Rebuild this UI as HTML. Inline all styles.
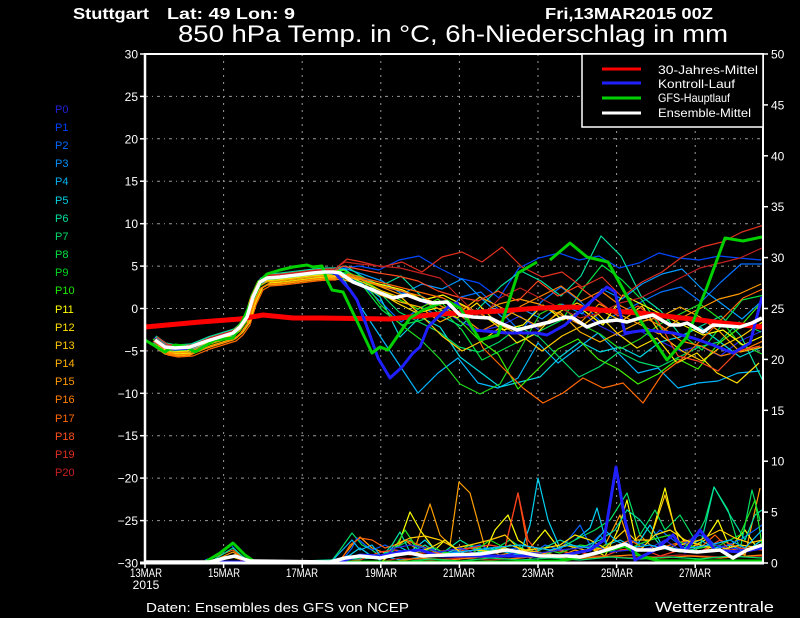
<!DOCTYPE html>
<html><head><meta charset="utf-8"><style>
html,body{margin:0;padding:0;background:#000;}
svg{display:block;}
text{font-family:"Liberation Sans",sans-serif;}
</style></head><body>
<svg width="800" height="618" viewBox="0 0 800 618" xmlns="http://www.w3.org/2000/svg">
<defs>
<clipPath id="pc"><rect x="145" y="54" width="617" height="509"/></clipPath>
<path id="pre" d="M155,340 L165,347 175,349 190,348 207,341 220,337 233,333 240,327 247,317 253,297 260,282 267,278 280,277 297,275 313,273 325,272 333,272"/>
</defs>
<rect width="800" height="618" fill="#000"/>

<!-- titles -->
<g fill="#fff">
<text x="73" y="19" font-size="16" font-weight="bold" textLength="76" lengthAdjust="spacingAndGlyphs">Stuttgart</text>
<text x="167" y="19" font-size="16" font-weight="bold" textLength="128" lengthAdjust="spacingAndGlyphs">Lat: 49 Lon: 9</text>
<text x="545" y="19" font-size="16" font-weight="bold" textLength="168" lengthAdjust="spacingAndGlyphs">Fri,13MAR2015 00Z</text>
<text x="178" y="42" font-size="24" textLength="550" lengthAdjust="spacingAndGlyphs">850 hPa Temp. in °C, 6h-Niederschlag in mm</text>
</g>

<!-- grid -->
<g stroke="#9a9a9a" stroke-width="1" stroke-dasharray="3,4,1,4" fill="none">
<line x1="145" y1="96.4" x2="762" y2="96.4"/>
<line x1="145" y1="138.8" x2="762" y2="138.8"/>
<line x1="145" y1="181.2" x2="762" y2="181.2"/>
<line x1="145" y1="223.7" x2="762" y2="223.7"/>
<line x1="145" y1="266.1" x2="762" y2="266.1"/>
<line x1="145" y1="308.5" x2="762" y2="308.5"/>
<line x1="145" y1="350.9" x2="762" y2="350.9"/>
<line x1="145" y1="393.3" x2="762" y2="393.3"/>
<line x1="145" y1="435.7" x2="762" y2="435.7"/>
<line x1="145" y1="478.1" x2="762" y2="478.1"/>
<line x1="145" y1="520.6" x2="762" y2="520.6"/>
</g>
<g stroke="#9a9a9a" stroke-width="1" stroke-dasharray="2,5" fill="none">
<line x1="223.6" y1="54" x2="223.6" y2="563"/>
<line x1="302.2" y1="54" x2="302.2" y2="563"/>
<line x1="380.8" y1="54" x2="380.8" y2="563"/>
<line x1="459.4" y1="54" x2="459.4" y2="563"/>
<line x1="538" y1="54" x2="538" y2="563"/>
<line x1="616.6" y1="54" x2="616.6" y2="563"/>
<line x1="695.2" y1="54" x2="695.2" y2="563"/>
</g>

<g clip-path="url(#pc)" fill="none" stroke-linejoin="round">
<!-- precipitation members -->
<g stroke-width="1.2">
<polyline stroke="#ffa000" points="200,563 215,560 233,552 250,563 330,563 340,560 352,545 360,537 372,548 385,553 395,548 405,540 415,548 430,504 440,535 450,545 459,482 470,493 485,548 500,555 515,552 530,558 545,553 560,556 575,550 590,555 605,545 620,515 630,545 640,535 655,550 670,548 685,540 700,553 715,545 730,550 745,555 760,488"/>
<polyline stroke="#ffff00" points="210,561 233,557 250,563 380,563 390,555 400,540 410,512 420,530 435,550 445,540 455,548 470,545 485,552 495,530 508,515 518,540 530,548 545,530 560,550 575,555 590,548 605,556 618,530 627,500 637,545 650,540 665,488 675,530 690,548 705,540 718,520 730,548 745,530 755,545 762,540"/>
<polyline stroke="#00d0f0" points="330,563 350,555 360,548 370,555 380,560 395,545 410,552 425,540 440,555 455,550 470,555 490,548 505,552 520,555 530,525 538,478 548,520 560,548 575,540 590,528 597,508 607,545 620,540 635,548 650,525 662,545 680,550 700,540 715,548 730,545 745,552 762,540"/>
<polyline stroke="#00e060" points="330,563 340,550 352,533 362,545 372,550 380,556 395,548 410,540 420,552 435,548 450,556 470,545 490,552 510,540 525,550 545,555 560,548 575,540 595,530 610,520 627,493 640,535 655,510 665,530 680,515 695,540 705,520 714,487 728,510 740,550 752,490 760,520"/>
<polyline stroke="#0060ff" points="205,560 220,555 231,545 245,560 340,563 352,548 357,538 365,545 372,550 385,545 395,550 410,552 430,548 445,555 460,550 480,545 495,553 515,548 530,555 545,545 560,550 580,525 590,545 600,535 612,552 630,540 645,545 660,530 680,545 700,535 720,548 740,540 755,530 762,525"/>
<polyline stroke="#ff6000" points="205,561 233,550 250,563 340,562 350,545 360,538 372,540 385,548 395,545 405,540 420,545 435,552 450,550 470,548 490,552 505,548 518,493 528,548 540,555 555,550 570,553 590,550 610,548 630,540 650,552 670,545 690,540 700,548 715,535 730,550 750,548 762,545"/>
<polyline stroke="#00e0a0" points="210,562 233,548 250,563 380,558 392,545 400,532 410,552 425,545 440,555 460,540 480,552 500,548 520,555 540,550 560,540 580,548 600,540 615,530 627,510 640,520 660,545 680,552 700,548 714,487 730,515 745,540 755,515 762,510"/>
<polyline stroke="#ff4020" points="215,562 233,556 245,562 330,563 360,560 380,552 395,550 410,555 430,552 450,555 470,548 490,545 505,548 518,493 528,540 540,555 560,556 580,552 600,558 620,550 640,548 660,556 680,550 700,552 720,540 740,548 762,550"/>
<polyline stroke="#20e020" points="390,556 405,530 415,545 430,550 450,553 470,555 490,540 505,548 520,552 540,548 560,553 580,545 600,548 615,540 630,548 650,540 670,535 685,545 700,548 720,545 740,535 755,500 762,545"/>
<polyline stroke="#ffc800" points="395,545 410,538 425,536 440,540 455,548 470,545 490,540 505,535 520,550 545,553 565,545 585,550 605,548 625,530 635,540 650,540 665,495 680,545 700,540 720,530 735,538 750,543 762,540"/>
<polyline stroke="#2828e8" points="380,560 395,548 410,545 425,548 440,552 460,548 480,555 500,556 520,552 540,553 560,550 580,548 595,545 610,552 630,550 650,548 665,540 680,550 700,530 715,545 730,548 745,550 762,545"/>
<polyline stroke="#ffe000" points="385,558 400,552 415,553 430,548 445,540 460,552 475,550 495,552 510,545 525,550 545,548 560,545 575,535 590,540 605,548 620,545 640,550 655,535 670,530 685,540 700,545 720,550 740,545 762,548"/>
<polyline stroke="#00b8ff" points="330,563 352,540 360,550 372,545 380,555 400,560 430,556 460,552 490,548 520,545 550,550 570,545 590,548 605,530 615,540 630,548 650,545 670,550 690,548 710,545 730,540 745,548 762,530"/>
<polyline stroke="#c02020" points="380,562 400,558 430,560 460,558 490,560 520,558 545,555 570,557 600,556 640,558 680,555 720,557 762,556"/>
<polyline stroke="#ff8000" points="390,562 420,558 450,560 480,557 510,559 540,556 570,559 600,557 630,555 660,558 690,556 720,558 762,555"/>
<polyline stroke="#00d868" points="400,562 430,559 460,561 490,558 520,560 550,558 580,560 610,557 640,559 670,557 700,559 730,556 762,558"/>
</g>
<!-- precip main lines -->
<polyline stroke="#00d000" stroke-width="3" points="145,562 205,562 220,553 233,543 245,555 255,562 500,562 560,561 590,555 610,550 625,546 640,556 660,561 762,561"/>
<polyline stroke="#2020ff" stroke-width="3" points="145,562 340,562 360,555 380,556 400,552 420,550 440,556 480,556 520,556 560,556 590,550 604,540 616,467 625,520 635,560 655,550 673,535 685,552 700,530 715,550 740,552 762,548"/>
<polyline stroke="#ffffff" stroke-width="3.5" points="145,562 210,562 225,558 235,556 250,561 330,562 345,558 360,556 380,558 395,555 410,553 423,556 447,555 480,554 507,550 520,552 540,556 567,556 580,557 600,552 613,548 625,544 637,550 653,550 665,547 673,550 697,552 720,550 733,558 747,550 762,545"/>

<!-- temperature members -->
<g stroke-width="1.2">
<g stroke="#2828e8" transform="translate(0,1)"><use href="#pre"/><polyline points="333,272 345,272 360,276 380,285 400,290 420,300 440,308 460,320 480,330 500,325 520,315 540,330 560,320 580,310 600,325 620,335 640,330 660,340 680,350 700,345 720,355 740,340 762,330"/></g>
<g stroke="#0048ff" transform="translate(-1,-2)"><use href="#pre"/><polyline points="333,272 345,270 360,268 380,272 400,262 420,258 440,270 460,280 480,285 500,300 520,270 540,260 560,255 580,262 600,258 620,270 640,265 660,255 680,260 700,262 720,258 740,260 762,262"/></g>
<g stroke="#0070ff" transform="translate(1,2)"><use href="#pre"/><polyline points="333,272 345,274 360,282 380,300 400,320 420,305 440,315 460,295 480,290 500,310 520,330 540,300 560,285 580,300 600,320 620,310 640,300 660,290 680,285 700,300 720,280 740,262 762,262"/></g>
<g stroke="#0098ff" transform="translate(2,-1)"><use href="#pre"/><polyline points="333,272 345,270 360,275 380,282 400,295 420,285 440,290 460,280 480,300 500,318 520,310 540,320 560,305 580,315 600,290 620,300 640,285 660,275 680,270 700,290 720,305 740,320 762,300"/></g>
<g stroke="#00b8ff" transform="translate(-2,3)"><use href="#pre"/><polyline points="333,272 345,275 360,300 380,330 400,360 420,390 440,370 460,355 480,380 500,385 520,375 540,340 560,360 580,345 600,330 620,350 640,370 660,365 680,385 700,380 720,378 740,370 762,368"/></g>
<g stroke="#00d8e0" transform="translate(0,-3)"><use href="#pre"/><polyline points="333,272 345,272 360,285 380,300 400,340 420,320 440,330 460,360 480,375 500,390 520,385 540,380 560,360 580,345 600,355 620,350 640,360 660,345 680,340 700,330 720,345 740,360 762,350"/></g>
<g stroke="#00e0a0" transform="translate(1,-4)"><use href="#pre"/><polyline points="333,272 345,270 360,280 380,290 400,280 420,300 440,320 460,330 480,310 500,290 520,275 540,285 560,300 580,280 600,240 620,260 640,300 660,315 680,340 700,330 720,320 740,340 762,385"/></g>
<g stroke="#00d868" transform="translate(-1,2)"><use href="#pre"/><polyline points="333,272 345,268 360,276 380,290 400,310 420,320 440,330 460,345 480,350 500,340 520,325 540,335 560,355 580,375 600,365 620,350 640,360 660,365 680,355 700,345 720,340 740,320 762,330"/></g>
<g stroke="#00e040" transform="translate(2,0)"><use href="#pre"/><polyline points="333,272 345,273 360,285 380,310 400,325 420,320 440,310 460,330 480,360 500,350 520,340 540,330 560,320 580,290 600,265 620,280 640,300 660,330 680,335 700,350 720,325 740,300 762,295"/></g>
<g stroke="#20d820" transform="translate(0,4)"><use href="#pre"/><polyline points="333,272 345,270 360,272 380,300 400,320 420,335 440,355 460,380 480,390 500,380 520,345 540,310 560,300 580,320 600,330 620,345 640,335 660,320 680,310 700,300 720,315 740,340 762,350"/></g>
<g stroke="#40f000" transform="translate(-2,-1)"><use href="#pre"/><polyline points="333,272 345,271 360,278 380,290 400,300 420,310 440,300 460,320 480,340 500,355 520,390 540,370 560,350 580,340 600,360 620,370 640,385 660,375 680,360 700,370 720,345 740,330 762,305"/></g>
<g stroke="#ffff00" transform="translate(3,5)"><use href="#pre"/><polyline points="333,272 345,272 360,275 380,280 400,285 420,295 440,290 460,300 480,310 500,325 520,320 540,300 560,315 580,305 600,320 620,290 640,300 660,310 680,320 700,330 720,325 740,340 762,330"/></g>
<g stroke="#ffe000" transform="translate(-3,3)"><use href="#pre"/><polyline points="333,272 345,274 360,280 380,288 400,300 420,310 440,305 460,315 480,300 500,320 520,340 540,330 560,310 580,300 600,310 620,330 640,345 660,335 680,360 700,350 720,370 740,380 762,360"/></g>
<g stroke="#ffc800" transform="translate(2,6)"><use href="#pre"/><polyline points="333,272 345,270 360,276 380,285 400,292 420,310 440,330 460,345 480,335 500,320 520,330 540,345 560,330 580,320 600,305 620,315 640,300 660,330 680,345 700,355 720,340 740,330 762,315"/></g>
<g stroke="#ffb000" transform="translate(0,7)"><use href="#pre"/><polyline points="333,272 345,273 360,278 380,288 400,295 420,300 440,315 460,305 480,290 500,300 520,310 540,320 560,305 580,325 600,335 620,325 640,315 660,310 680,300 700,310 720,325 740,345 762,340"/></g>
<g stroke="#ff9800" transform="translate(-1,4)"><use href="#pre"/><polyline points="333,272 345,271 360,275 380,282 400,290 420,295 440,305 460,300 480,310 500,300 520,295 540,300 560,310 580,320 600,300 620,310 640,320 660,330 680,315 700,305 720,295 740,290 762,280"/></g>
<g stroke="#ff8000" transform="translate(1,6)"><use href="#pre"/><polyline points="333,272 345,269 360,273 380,280 400,285 420,290 440,300 460,310 480,325 500,315 520,300 540,290 560,280 580,295 600,285 620,300 640,310 660,320 680,335 700,340 720,350 740,345 762,335"/></g>
<g stroke="#ff6800" transform="translate(3,8)"><use href="#pre"/><polyline points="333,272 345,266 360,270 380,275 400,280 420,285 440,290 460,300 480,340 500,360 520,380 540,395 560,385 580,370 600,380 620,375 640,395 660,365 680,350 700,330 720,310 740,290 762,280"/></g>
<g stroke="#ff4820" transform="translate(-2,1)"><use href="#pre"/><polyline points="333,272 345,265 360,268 380,272 400,275 420,280 440,290 460,296 480,300 500,290 520,300 540,280 560,295 580,285 600,300 620,315 640,305 660,320 680,355 700,360 720,370 740,350 762,345"/></g>
<g stroke="#e03020" transform="translate(2,-3)"><use href="#pre"/><polyline points="333,272 345,262 360,265 380,270 400,265 420,275 440,260 460,255 480,265 500,250 520,270 540,280 560,275 580,290 600,280 620,300 640,285 660,275 680,260 700,250 720,245 740,235 762,228"/></g>
<g stroke="#c02020" transform="translate(0,-2)"><use href="#pre"/><polyline points="333,272 345,264 360,266 380,268 400,270 420,275 440,280 460,300 480,320 500,300 520,290 540,300 560,310 580,320 600,315 620,305 640,300 660,290 680,280 700,270 720,265 740,260 762,250"/></g>
</g>

<!-- 30-year mean -->
<polyline stroke="#ff0000" stroke-width="5" points="145,327 200,322 240,319 263,315 293,318 320,318 390,319 440,314 500,311 540,308 573,307 600,310 640,313 673,317 700,320 723,323 762,327"/>
<!-- control -->
<polyline stroke="#2020ff" stroke-width="3" points="155,340 165,347 175,349 190,348 207,341 220,337 233,333 240,327 247,317 253,297 260,282 267,278 280,277 297,275 313,273 325,272 335,273 350,290 357,300 367,327 378,358 390,378 402,367 413,353 420,347 428,327 440,315 450,305 457,303 473,330 507,333 537,333 547,335 565,325 587,305 607,287 615,292 625,333 647,330 673,333 693,338 713,345 733,353 750,343 762,297"/>
<!-- GFS main -->
<polyline stroke="#00d000" stroke-width="3" points="145,340 165,352 175,345 185,346 195,352 205,346 215,340 233,338 243,320 253,298 263,278 267,274 280,270 293,267 307,265 313,267 322,266 327,280 332,290 343,292 355,317 372,353 380,347 388,350 410,318 423,310 433,306 447,301 460,308 480,340 498,335 518,273 537,262"/>
<polyline stroke="#00d000" stroke-width="3" points="550,260 570,243 587,257 608,262 640,320 667,360 687,337 707,287 725,238 743,241 762,237"/>
<!-- ensemble mean -->
<polyline stroke="#ffffff" stroke-width="3.5" points="155,340 165,347 175,348 190,347 207,341 220,337 233,333 240,327 247,317 253,297 260,282 267,278 280,277 297,275 313,273 325,272 333,272 340,273 353,282 373,290 393,298 407,295 420,300 433,303 447,302 460,315 473,317 490,318 500,323 517,330 537,325 550,322 565,317 573,318 587,327 600,322 617,320 627,322 640,318 653,315 670,325 680,325 687,323 703,332 713,325 727,326 740,327 752,323 762,318"/>
</g>

<!-- axes -->
<g stroke="#fff" fill="none">
<line x1="145" y1="54" x2="763" y2="54" stroke-width="2"/>
<line x1="145" y1="53" x2="145" y2="564" stroke-width="2.5"/>
<line x1="763" y1="53" x2="763" y2="564" stroke-width="2"/>
<line x1="140" y1="563" x2="764" y2="563" stroke-width="3"/>
<g stroke-width="1.5">
<line x1="140" y1="54" x2="145" y2="54"/><line x1="140" y1="96.4" x2="145" y2="96.4"/><line x1="140" y1="138.8" x2="145" y2="138.8"/><line x1="140" y1="181.2" x2="145" y2="181.2"/><line x1="140" y1="223.7" x2="145" y2="223.7"/><line x1="140" y1="266.1" x2="145" y2="266.1"/><line x1="140" y1="308.5" x2="145" y2="308.5"/><line x1="140" y1="350.9" x2="145" y2="350.9"/><line x1="140" y1="393.3" x2="145" y2="393.3"/><line x1="140" y1="435.7" x2="145" y2="435.7"/><line x1="140" y1="478.1" x2="145" y2="478.1"/><line x1="140" y1="520.6" x2="145" y2="520.6"/>
<line x1="763" y1="54" x2="768" y2="54"/><line x1="763" y1="104.9" x2="768" y2="104.9"/><line x1="763" y1="155.8" x2="768" y2="155.8"/><line x1="763" y1="206.7" x2="768" y2="206.7"/><line x1="763" y1="257.6" x2="768" y2="257.6"/><line x1="763" y1="308.5" x2="768" y2="308.5"/><line x1="763" y1="359.4" x2="768" y2="359.4"/><line x1="763" y1="410.3" x2="768" y2="410.3"/><line x1="763" y1="461.2" x2="768" y2="461.2"/><line x1="763" y1="512.1" x2="768" y2="512.1"/><line x1="763" y1="563" x2="768" y2="563"/>
<line x1="145" y1="563" x2="145" y2="568"/><line x1="223.6" y1="563" x2="223.6" y2="568"/><line x1="302.2" y1="563" x2="302.2" y2="568"/><line x1="380.8" y1="563" x2="380.8" y2="568"/><line x1="459.4" y1="563" x2="459.4" y2="568"/><line x1="538" y1="563" x2="538" y2="568"/><line x1="616.6" y1="563" x2="616.6" y2="568"/><line x1="695.2" y1="563" x2="695.2" y2="568"/>
</g>
</g>

<!-- left axis labels -->
<g font-size="12" text-anchor="end" fill="#fff">
<text x="138" y="58.5">30</text>
<text x="138" y="100.9">25</text>
<text x="138" y="143.3">20</text>
<text x="138" y="185.7">15</text>
<text x="138" y="228.2">10</text>
<text x="138" y="270.6">5</text>
<text x="138" y="313">0</text>
<text x="138" y="355.4">−5</text>
<text x="138" y="397.8">−10</text>
<text x="138" y="440.2">−15</text>
<text x="138" y="482.6">−20</text>
<text x="138" y="525.1">−25</text>
<text x="138" y="567.5">−30</text>
</g>
<!-- right axis labels -->
<g font-size="12" fill="#fff">
<text x="771" y="58.5">50</text>
<text x="771" y="109.4">45</text>
<text x="771" y="160.3">40</text>
<text x="771" y="211.2">35</text>
<text x="771" y="262.1">30</text>
<text x="771" y="313">25</text>
<text x="771" y="363.9">20</text>
<text x="771" y="414.8">15</text>
<text x="771" y="465.7">10</text>
<text x="771" y="516.6">5</text>
<text x="771" y="567.5">0</text>
</g>
<!-- x labels -->
<g font-size="12" text-anchor="middle" fill="#fff">
<text x="146" y="577" textLength="32" lengthAdjust="spacingAndGlyphs">13MAR</text>
<text x="146" y="589">2015</text>
<text x="224" y="577" textLength="32" lengthAdjust="spacingAndGlyphs">15MAR</text>
<text x="302" y="577" textLength="32" lengthAdjust="spacingAndGlyphs">17MAR</text>
<text x="381" y="577" textLength="32" lengthAdjust="spacingAndGlyphs">19MAR</text>
<text x="459" y="577" textLength="32" lengthAdjust="spacingAndGlyphs">21MAR</text>
<text x="538" y="577" textLength="32" lengthAdjust="spacingAndGlyphs">23MAR</text>
<text x="617" y="577" textLength="32" lengthAdjust="spacingAndGlyphs">25MAR</text>
<text x="695" y="577" textLength="32" lengthAdjust="spacingAndGlyphs">27MAR</text>
</g>

<!-- member labels -->
<g font-size="11">
<text x="55" y="113" fill="#2020d8">P0</text>
<text x="55" y="131" fill="#0040ff">P1</text>
<text x="55" y="149" fill="#0068ff">P2</text>
<text x="55" y="167" fill="#0090f8">P3</text>
<text x="55" y="185" fill="#00b0f0">P4</text>
<text x="55" y="204" fill="#00d0e0">P5</text>
<text x="55" y="222" fill="#00e0a0">P6</text>
<text x="55" y="240" fill="#00d868">P7</text>
<text x="55" y="258" fill="#00e040">P8</text>
<text x="55" y="276" fill="#00d820">P9</text>
<text x="55" y="294" fill="#20e800">P10</text>
<text x="55" y="313" fill="#ffff00">P11</text>
<text x="55" y="331" fill="#ffe000">P12</text>
<text x="55" y="349" fill="#ffc800">P13</text>
<text x="55" y="367" fill="#ffb000">P14</text>
<text x="55" y="385" fill="#ff9800">P15</text>
<text x="55" y="403" fill="#ff8000">P16</text>
<text x="55" y="422" fill="#ff6800">P17</text>
<text x="55" y="440" fill="#ff5020">P18</text>
<text x="55" y="458" fill="#e03020">P19</text>
<text x="55" y="476" fill="#c82020">P20</text>
</g>

<!-- legend -->
<rect x="582" y="54" width="181" height="73" fill="#000" stroke="#fff" stroke-width="1.5"/>
<g stroke-width="3">
<line x1="602" y1="69" x2="641" y2="69" stroke="#ff0000"/>
<line x1="602" y1="83" x2="641" y2="83" stroke="#2020ff"/>
<line x1="602" y1="98" x2="641" y2="98" stroke="#00d000"/>
<line x1="602" y1="113" x2="641" y2="113" stroke="#ffffff"/>
</g>
<g font-size="12" fill="#fff">
<text x="658" y="74" textLength="100" lengthAdjust="spacingAndGlyphs">30-Jahres-Mittel</text>
<text x="658" y="88" textLength="77" lengthAdjust="spacingAndGlyphs">Kontroll-Lauf</text>
<text x="658" y="102" textLength="72" lengthAdjust="spacingAndGlyphs">GFS-Hauptlauf</text>
<text x="658" y="117" textLength="93" lengthAdjust="spacingAndGlyphs">Ensemble-Mittel</text>
</g>

<!-- footer -->
<g fill="#fff">
<text x="146" y="612" font-size="13" textLength="263" lengthAdjust="spacingAndGlyphs">Daten: Ensembles des GFS von NCEP</text>
<text x="655" y="612" font-size="15" textLength="119" lengthAdjust="spacingAndGlyphs">Wetterzentrale</text>
</g>
</svg>
</body></html>
